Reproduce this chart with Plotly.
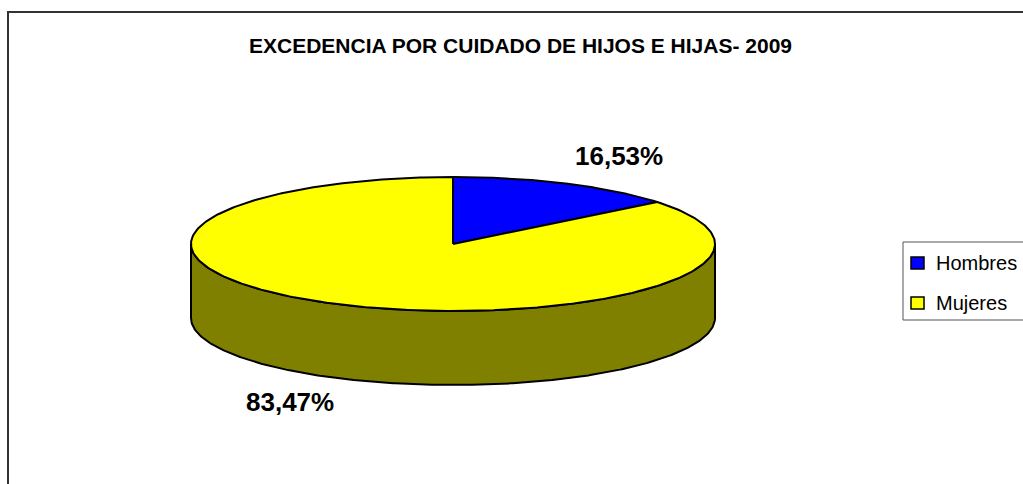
import numpy as np
import plotly.graph_objects as go

# ---- data ----
categories = ["Hombres", "Mujeres"]
values = [16.53, 83.47]
top_colors = ["#0000FF", "#FFFF00"]
side_colors = ["#000080", "#808000"]
title_text = "EXCEDENCIA POR CUIDADO DE HIJOS E HIJAS- 2009"

# ---- layout constants (screen pixels) ----
W, H = 1023, 484
CX, CY, RX, RY, DEPTH = 453, 244, 262, 67, 74
K = 1.365  # view warp of the 3-D pie
FONT = "Arial, Liberation Sans, sans-serif"


def pt(phi_deg, dy=0.0):
    p = np.radians(phi_deg)
    c, s = np.cos(p), K * np.sin(p)
    n = np.hypot(c, s)
    return CX + RX * c / n, CY - RY * s / n + dy


fig = go.Figure()
total = sum(values)
spans = []
cum = 0.0
for v in values:
    a0 = 90 - 360 * cum / total
    a1 = 90 - 360 * (cum + v) / total
    spans.append((a0, a1))
    cum += v

# sides (front half only)
for (a0, a1), col in zip(spans, side_colors):
    lo, hi = max(a1, -180), min(a0, 0)
    if hi > lo:
        ph = np.linspace(hi, lo, 300)
        xt, yt = pt(ph)
        xb, yb = pt(ph[::-1], DEPTH)
        xs = np.concatenate([xt, xb, xt[:1]])
        ys = np.concatenate([yt, yb, yt[:1]])
        fig.add_trace(go.Scatter(x=xs, y=ys, fill="toself", fillcolor=col,
                                 mode="lines", line=dict(color="black", width=2),
                                 hoverinfo="skip", showlegend=False))

# top slices
for (a0, a1), col, name in zip(spans, top_colors, categories):
    ph = np.linspace(a0, a1, 400)
    xa, ya = pt(ph)
    xs = np.concatenate([[CX], xa, [CX]])
    ys = np.concatenate([[CY], ya, [CY]])
    fig.add_trace(go.Scatter(x=xs, y=ys, fill="toself", fillcolor=col,
                             mode="lines", line=dict(color="black", width=2),
                             name=name, hoverinfo="skip", showlegend=False))

# labels
label_pos = [(619, 156), (290, 402)]
annotations = []
for v, (lx, ly) in zip(values, label_pos):
    annotations.append(dict(x=lx, y=ly, xref="x", yref="y", showarrow=False,
                            text="<b>" + f"{v:.2f}".replace(".", ",") + "%</b>",
                            font=dict(family=FONT, size=26, color="black"),
                            xanchor="center", yanchor="middle"))

annotations.append(dict(x=520, y=45, xref="x", yref="y", showarrow=False,
                        text="<b>" + title_text + "</b>",
                        font=dict(family=FONT, size=21, color="black"),
                        xanchor="center", yanchor="middle"))

shapes = [
    dict(type="rect", xref="x", yref="y", x0=8, y0=12, x1=1040, y1=500,
         line=dict(color="#333333", width=2), fillcolor="rgba(0,0,0,0)", layer="below"),
    dict(type="rect", xref="x", yref="y", x0=903, y0=242, x1=1040, y1=320,
         line=dict(color="#555555", width=1), fillcolor="white", layer="below"),
]

# legend entries
leg_y = [263, 303]
for name, col, ly in zip(categories, top_colors, leg_y):
    shapes.append(dict(type="rect", xref="x", yref="y", x0=911, x1=924,
                       y0=ly - 6, y1=ly + 6, fillcolor=col,
                       line=dict(color="black", width=1.5)))
    annotations.append(dict(x=934, y=ly, xref="x", yref="y", showarrow=False,
                            text=name, font=dict(family=FONT, size=20, color="black"),
                            xanchor="left", yanchor="middle"))

fig.update_layout(
    width=W, height=H,
    margin=dict(l=0, r=0, t=0, b=0),
    paper_bgcolor="white", plot_bgcolor="white",
    xaxis=dict(range=[0, W], visible=False, fixedrange=True),
    yaxis=dict(range=[H, 0], visible=False, fixedrange=True),
    shapes=shapes, annotations=annotations,
    showlegend=False,
)

fig.write_html(
    "out.html",
    config={"displayModeBar": False},
    post_script="document.body.style.margin='0';document.body.style.overflow='hidden';",
)
